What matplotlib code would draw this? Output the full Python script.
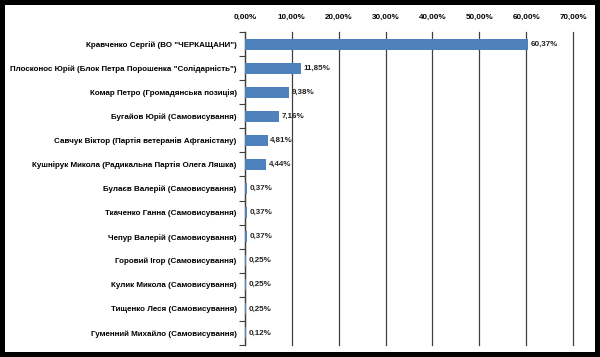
import numpy as np
import matplotlib.pyplot as plt
from matplotlib.patches import Rectangle
from matplotlib.ticker import FixedLocator, FuncFormatter

# candidates, top to bottom
names = [
    'Кравченко Сергій (ВО "ЧЕРКАЩАНИ")',
    'Плосконос Юрій (Блок Петра Порошенка "Солідарність")',
    'Комар Петро (Громадянська позиція)',
    'Бугайов Юрій (Самовисування)',
    'Савчук Віктор (Партія ветеранів Афганістану)',
    'Кушнірук Микола (Радикальна Партія Олега Ляшка)',
    'Булаєв Валерій (Самовисування)',
    'Ткаченко Ганна (Самовисування)',
    'Чепур Валерій (Самовисування)',
    'Горовий Ігор (Самовисування)',
    'Кулик Микола (Самовисування)',
    'Тищенко Леся (Самовисування)',
    'Гуменний Михайло (Самовисування)',
]
shares = [60.37, 11.85, 9.38, 7.16, 4.81, 4.44, 0.37, 0.37, 0.37, 0.25, 0.25, 0.25, 0.12]
xticks = [0, 10, 20, 30, 40, 50, 60, 70]

plt.rcParams['font.family'] = ['Liberation Sans', 'DejaVu Sans']

fig = plt.figure(figsize=(6, 3.57), dpi=100)
fig.patch.set_facecolor('black')
fig.patches.append(Rectangle((5 / 600, 5 / 357), 590 / 600, 347 / 357,
                             transform=fig.transFigure, facecolor='white',
                             edgecolor='none', zorder=-10))

ax = fig.add_axes([245 / 600, 1 - 345 / 357, 328 / 600, 313 / 357])
ax.set_facecolor('none')
ax.set_zorder(5)

y = np.arange(len(names))
ax.barh(y, shares, height=0.46, color='#4F81BD', zorder=3)
for yi, v in zip(y, shares):
    ax.text(v + 0.6, yi, f'{v:.2f}%'.replace('.', ','), va='center', ha='left',
            fontsize=5.8, fontweight='bold', color='#222222')

ax.set_xlim(0, 70)
ax.set_ylim(len(names) - 0.5, -0.5)
ax.xaxis.tick_top()
ax.set_xticks(xticks)
ax.xaxis.set_major_formatter(FuncFormatter(lambda v, p: f'{v:.2f}%'.replace('.', ',')))
ax.tick_params(axis='x', length=0, labelsize=5.8, pad=8)
for lab in ax.get_xticklabels():
    lab.set_fontweight('bold')

ax.set_yticks(y)
ax.set_yticklabels(names, fontsize=5.8, fontweight='bold')
ax.tick_params(axis='y', which='major', length=0, pad=6)
ax.yaxis.set_minor_locator(FixedLocator(np.arange(-0.5, len(names), 1)))
ax.tick_params(axis='y', which='minor', length=4, width=0.8, color='#404040', direction='out')

ax.grid(axis='x', color='#404040', linewidth=0.9, zorder=1)
for gl in ax.get_xgridlines():
    gl.set_clip_on(False)
for s in ['top', 'right', 'bottom']:
    ax.spines[s].set_visible(False)
ax.spines['left'].set_color('#404040')
ax.spines['left'].set_linewidth(0.9)

fig.savefig('out.png', dpi=100, facecolor=fig.get_facecolor())
